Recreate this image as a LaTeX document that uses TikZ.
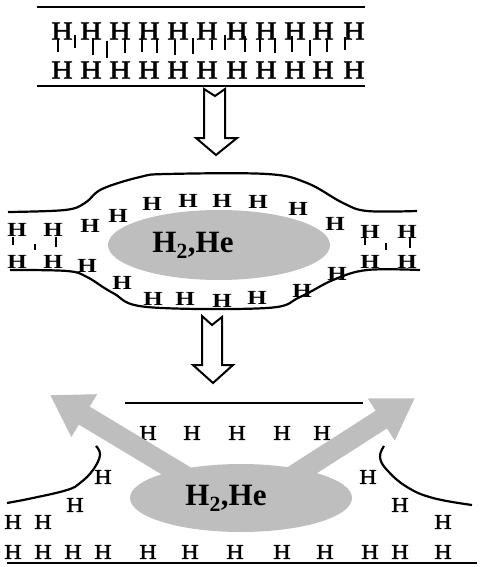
\documentclass[tikz,border=0pt]{standalone}
\usepackage{fontspec}
\setmainfont{Liberation Serif}
\newfontfamily\heavyserif[FakeBold=1.5,FakeStretch=1.15]{Liberation Serif}
\newfontfamily\wideserif[FakeStretch=1.25]{Liberation Serif}
\usepackage{tikz}
\usetikzlibrary{arrows.meta,shapes.geometric}
\definecolor{gasc}{RGB}{190,190,190}
\tikzset{
  hatom/.style={inner sep=0pt,font=\heavyserif\fontsize{26}{26}\selectfont},
  hsoft/.style={inner sep=0pt,font=\wideserif\fontsize{20}{20}\selectfont\bfseries},
  hfree/.style={inner sep=0pt,font=\heavyserif\fontsize{21}{21}\selectfont},
  bond/.style={line width=2.4pt,black},
  wall/.style={line width=2.2pt,black},
  blob/.style={ellipse,fill=gasc,draw=none,inner sep=0pt},
  glab/.style={inner sep=0pt,font=\fontsize{31}{31}\selectfont\bfseries},
  stepin/.style={draw=black,line width=2pt,fill=white,line join=miter},
  jet/.style={gasc,line width=21pt,-{Triangle[length=40pt,width=47pt]}},
}
\begin{document}
\begin{tikzpicture}[x=1pt,y=-1pt]
  \useasboundingbox (0,0) rectangle (479,567);
  % solid layer (top)
  \draw[wall] (37,7) -- (365,7);
  \draw[wall] (37,86) -- (365,86);
  \foreach \i/\x in {1/62,2/91,3/120,4/149,5/178,6/207,7/237,8/266,9/295,10/323,11/354}{
    \node[hatom] (ht\i) at (\x,31) {H};
    \node[hatom] (hb\i) at (\x,70) {H};}
  \foreach \x/\a/\b in {58/38/52, 75/35/48, 93/38/55, 107/41/58, 125/38/53, 142/35/52,
                        157/38/53, 175/40/55, 193/38/54, 212/40/50, 225/35/50, 245/36/52,
                        260/38/52, 275/38/53, 292/36/52, 310/40/56, 327/38/52, 345/37/50}
    \draw[bond] (\x,\a) -- (\x,\b);
  % arrow 1
  \draw[stepin] (204,89) -- (215,96) -- (225,89) -- (225,138) -- (237,138) -- (216,155)
     -- (196,138) -- (204,138) -- cycle;
  % bubble (middle)
  \draw[wall] plot[smooth,tension=0.6] coordinates {(8,212) (65,210) (85,203) (102,189) (140,177)
     (167,174) (267,174) (307,183) (343,203) (367,211) (417,211)};
  \draw[wall] plot[smooth,tension=0.6] coordinates {(10,270) (67,271) (87,277) (113,293) (147,307)
     (267,308) (300,297) (333,280) (367,270) (420,270)};
  \node[blob,minimum width=222pt,minimum height=70pt] (gasA) at (219,245) {};
  \node[glab] (labA) at (193,245) {H\textsubscript{2},He};
  \foreach \n/\x/\y in {1/152/204, 2/188/201, 3/222/201, 4/258/202, 5/298/209, 6/335/224,
                        7/118/216, 8/90/226, 9/17/230, 10/53/230, 11/370/232, 12/407/232,
                        13/17/262, 14/53/262, 15/370/262, 16/407/262, 17/87/266, 18/122/283,
                        19/153/299, 20/185/299, 21/222/301, 22/257/298, 23/302/291, 24/337/274}
    \node[hsoft] (hm\n) at (\x,\y) {H};
  \foreach \x/\a/\b in {13/237/245, 35/244/250, 56/237/247, 365/237/245, 386/243/250, 410/237/248}
    \draw[bond,line width=2pt] (\x,\a) -- (\x,\b);
  % arrow 2
  \draw[stepin] (202,316) -- (212,325) -- (222,317) -- (222,365) -- (233,365) -- (213,383)
     -- (193,365) -- (202,365) -- cycle;
  % rupture (bottom)
  \draw[wall] (125,403) -- (363,403);
  \draw[wall] (7,563) -- (477,563);
  \draw[wall] plot[smooth,tension=0.7] coordinates {(96,446) (100,455) (93,470) (80,483) (67,490) (33,498) (7,503)};
  \draw[wall] plot[smooth,tension=0.7] coordinates {(384,446) (380,457) (387,470) (407,487) (433,498) (472,505)};
  \foreach \n/\x/\y in {1/148/433, 2/192/433, 3/237/433, 4/282/433, 5/322/433,
                        6/103/477, 7/75/505, 8/13/522, 9/43/522, 10/368/477, 11/400/505, 12/443/522}
    \node[hfree] (hf\n) at (\x,\y) {H};
  \foreach \n/\x in {1/13,2/43,3/73,4/103,5/148,6/190,7/235,8/282,9/325,10/370,11/400,12/443}
    \node[hfree] (hg\n) at (\x,552) {H};
  \node[blob,minimum width=222pt,minimum height=68pt] (gasB) at (241,498) {};
  \coordinate (srcL) at (188,478);
  \coordinate (srcR) at (290,478);
  \coordinate (tipL) at (50,395);
  \coordinate (tipR) at (415,398);
  \draw[jet] (srcL) -- (tipL);
  \draw[jet] (srcR) -- (tipR);
  \node[glab] (labB) at (226,498) {H\textsubscript{2},He};
\end{tikzpicture}
\end{document}
